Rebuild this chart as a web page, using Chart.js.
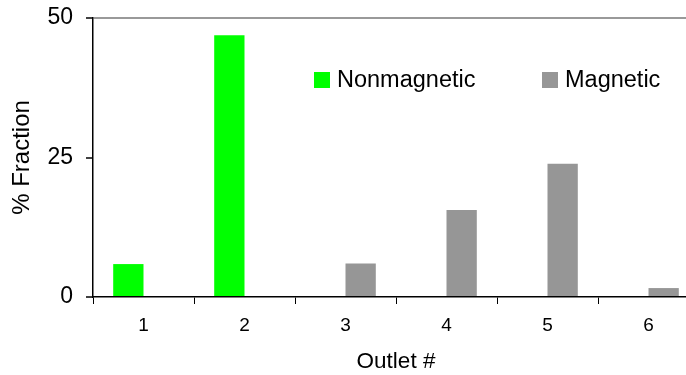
<!DOCTYPE html>
<html>
<head>
<meta charset="utf-8">
<script src="https://cdn.jsdelivr.net/npm/chart.js@4.4.1/dist/chart.umd.min.js"></script>
<style>
  html, body { margin: 0; padding: 0; background: #fff; overflow: hidden; }
  #wrap { width: 700px; height: 375px; }
</style>
</head>
<body>
<div id="wrap"><canvas id="chart"></canvas></div>
<script>
const outlets = ["1", "2", "3", "4", "5", "6"];
const nonmagnetic = [5.9, 46.9, 0, 0, 0, 0];
const magnetic = [0, 0, 6.0, 15.6, 23.9, 1.6];
const yTicks = [0, 25, 50];

const FONT = "'Liberation Sans', Arial, sans-serif";

// legend drawn inside the plot, like the original
const innerLegend = {
  id: "innerLegend",
  afterDraw(chart) {
    const ctx = chart.ctx;
    const spots = [314, 542];
    ctx.save();
    ctx.font = `23.5px ${FONT}`;
    ctx.textBaseline = "middle";
    ctx.textAlign = "left";
    chart.data.datasets.forEach((ds, i) => {
      const x = spots[i];
      ctx.fillStyle = ds.backgroundColor;
      ctx.fillRect(x, 72, 16, 16);
      ctx.fillStyle = "#000";
      ctx.fillText(ds.label, x + 23, 81);
    });
    ctx.restore();
  }
};

new Chart(document.querySelector("#chart"), {
  type: "bar",
  data: {
    labels: outlets,
    datasets: [
      { label: "Nonmagnetic", data: nonmagnetic, backgroundColor: "#00ff00" },
      { label: "Magnetic", data: magnetic, backgroundColor: "#969696" }
    ]
  },
  options: {
    responsive: true,
    maintainAspectRatio: false,
    animation: false,
    categoryPercentage: 0.6,
    barPercentage: 1.0,
    layout: { padding: { left: 0, right: 1, top: 18, bottom: 0 } },
    plugins: {
      legend: { display: false },
      tooltip: { enabled: false }
    },
    scales: {
      x: {
        grid: {
          offset: true,
          drawOnChartArea: false,
          drawTicks: true,
          tickLength: 7,
          tickColor: "#000"
        },
        border: { color: "#000", width: 1.5 },
        ticks: { color: "#000", font: { family: FONT, size: 19 }, padding: 10, maxRotation: 0 },
        title: {
          display: true,
          text: "Outlet #",
          color: "#000",
          font: { family: FONT, size: 22.5 },
          padding: { top: 0, bottom: 0 }
        },
        afterFit(scale) {
          scale.height = 78;
          scale.paddingLeft = 0;
          scale.paddingRight = 0;
        }
      },
      y: {
        min: 0,
        max: 50,
        afterBuildTicks(scale) { scale.ticks = yTicks.map((v) => ({ value: v })); },
        grid: {
          color: (c) => (c.tick && c.tick.value === 50 ? "#999" : "rgba(0,0,0,0)"),
          lineWidth: 2,
          drawTicks: true,
          tickLength: 7,
          tickColor: "#000",
          tickWidth: 1.5
        },
        border: { color: "#000", width: 1.5 },
        ticks: { color: "#000", font: { family: FONT, size: 23 }, padding: 13 },
        title: {
          display: true,
          text: "% Fraction",
          color: "#000",
          font: { family: FONT, size: 24 },
          padding: { top: 8, bottom: 0 }
        },
        afterFit(scale) {
          scale.width = 93;
          scale.paddingTop = 0;
          scale.paddingBottom = 0;
        }
      }
    }
  },
  plugins: [innerLegend]
});
</script>
</body>
</html>
